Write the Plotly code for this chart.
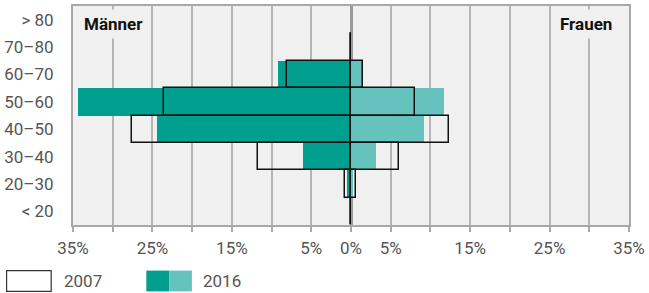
import plotly.graph_objects as go

# ---- data ----
age_groups = ["< 20", "20–30", "30–40", "40–50", "50–60", "60–70", "70–80", "> 80"]
men_2016 = [0, 0.5, 6.0, 24.4, 34.4, 9.25, 0, 0]
women_2016 = [0, 0.2, 3.2, 9.25, 11.75, 1.5, 0, 0]
men_2007 = [0.05, 0.8, 11.7, 27.6, 23.5, 8.0, 0.05, None]
women_2007 = [0.05, 0.6, 6.0, 12.3, 8.1, 1.5, 0.05, None]
tick_vals = [-35, -30, -25, -20, -15, -10, -5, 0, 5, 10, 15, 20, 25, 30, 35]
tick_text = ["35%", "", "25%", "", "15%", "", "5%", "0%", "5%", "", "15%", "", "25%", "", "35%"]
legend_labels = ["2007", "2016"]
side_labels = ["Männer", "Frauen"]

DARK = "#009f90"
LIGHT = "#66c2bd"
BG = "#f0f0f0"
GRID = "#b5b5b5"
FRAME = "#a8a8a8"
TXT = "#555555"
FONT = "Roboto"

W, H = 649, 293
L, R, T, B = 70, 18, 4, 68
PW, PH = W - L - R, H - T - B


def px(x):
    return (x - L) / PW


def py(y):
    return (H - B - y) / PH


fig = go.Figure()
fig.add_trace(go.Bar(y=age_groups, x=[-v for v in men_2016], orientation="h",
                     marker=dict(color=DARK, line=dict(width=0)), width=1, showlegend=False))
fig.add_trace(go.Bar(y=age_groups, x=women_2016, orientation="h",
                     marker=dict(color=LIGHT, line=dict(width=0)), width=1, showlegend=False))
fig.add_trace(go.Bar(y=age_groups, x=[-v if v is not None else None for v in men_2007], orientation="h",
                     marker=dict(color="rgba(0,0,0,0)", line=dict(color="#111", width=1.5)),
                     width=1, showlegend=False))
fig.add_trace(go.Bar(y=age_groups, x=women_2007, orientation="h",
                     marker=dict(color="rgba(0,0,0,0)", line=dict(color="#111", width=1.5)),
                     width=1, showlegend=False))

fig.update_layout(
    width=W, height=H,
    margin=dict(l=L, r=R, t=T, b=B),
    paper_bgcolor="white", plot_bgcolor=BG,
    barmode="overlay", bargap=0,
    font=dict(family=FONT, size=17, color=TXT),
    xaxis=dict(range=[-35, 35], tickvals=tick_vals, ticktext=tick_text,
               showgrid=True, gridcolor=GRID, gridwidth=1.5,
               zeroline=True, zerolinecolor="#9a9a9a", zerolinewidth=2.5,
               showline=True, linecolor=FRAME, linewidth=2, mirror=True,
               ticks="outside", ticklen=5, tickwidth=1.5, tickcolor=FRAME,
               ticklabelstandoff=2,
               tickfont=dict(size=17, color=TXT), fixedrange=True),
    yaxis=dict(type="category", categoryorder="array", categoryarray=age_groups,
               range=[-0.5, 7.5], showgrid=False, zeroline=False,
               showline=True, linecolor=FRAME, linewidth=2, mirror=True,
               ticks="", ticklabelstandoff=14,
               tickfont=dict(size=17, color=TXT), fixedrange=True),
)

# side labels
fig.add_annotation(text="<b>" + side_labels[0] + "</b>", xref="paper", yref="paper",
                   x=px(76), y=py(22), xanchor="left", yanchor="middle", showarrow=False,
                   font=dict(size=17, color="#111", family=FONT), bgcolor=BG, borderpad=4)
fig.add_annotation(text="<b>" + side_labels[1] + "</b>", xref="paper", yref="paper",
                   x=px(619), y=py(22), xanchor="right", yanchor="middle", showarrow=False,
                   font=dict(size=17, color="#111", family=FONT), bgcolor=BG, borderpad=4)

# custom legend
fig.add_shape(type="rect", xref="paper", yref="paper", x0=px(3), x1=px(48), y0=py(292), y1=py(271),
              line=dict(color="#333", width=1.2), fillcolor="white")
fig.add_shape(type="rect", xref="paper", yref="paper", x0=px(144), x1=px(167), y0=py(292), y1=py(271),
              line=dict(width=0), fillcolor=DARK)
fig.add_shape(type="rect", xref="paper", yref="paper", x0=px(167), x1=px(190), y0=py(292), y1=py(271),
              line=dict(width=0), fillcolor=LIGHT)
fig.add_annotation(text=legend_labels[0], xref="paper", yref="paper", x=px(59), y=py(282),
                   xanchor="left", yanchor="middle", showarrow=False,
                   font=dict(size=17, color=TXT))
fig.add_annotation(text=legend_labels[1], xref="paper", yref="paper", x=px(199), y=py(282),
                   xanchor="left", yanchor="middle", showarrow=False,
                   font=dict(size=17, color=TXT))

fig.write_html("out.html", config={"displayModeBar": False},
               post_script="document.body.style.margin='0';")
